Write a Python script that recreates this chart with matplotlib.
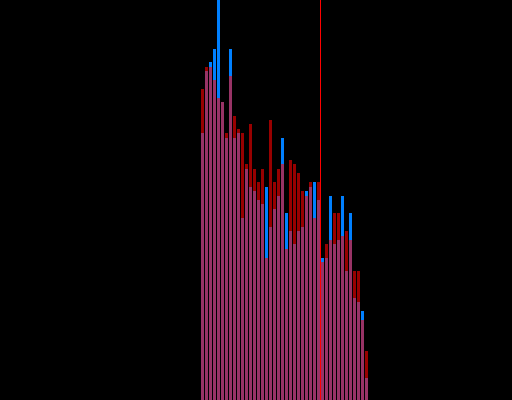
import numpy as np
import matplotlib
matplotlib.use("Agg")
import matplotlib.pyplot as plt

# counts per bin (bin index 0..41)
blue_counts = [60, 74, 76, 79, 90, 67, 59, 79, 59, 60,
               41, 52, 48, 47, 45, 44, 48, 39, 43, 46,
               59, 42, 38, 35, 38, 39, 47, 48, 49, 45,
               32, 32, 46, 35, 36, 46, 29, 42, 23, 22,
               20, 5]
red_counts = [70, 75, 75, 72, 68, 67, 60, 73, 64, 61,
              60, 53, 62, 52, 49, 52, 32, 63, 49, 52,
              53, 34, 54, 53, 51, 47, 46, 49, 41, 49,
              31, 35, 36, 42, 42, 37, 38, 36, 29, 29,
              18, 11]
marker_x = 29.875

bins = np.arange(len(blue_counts))

fig = plt.figure(figsize=(5.12, 4), dpi=100, facecolor="black")
ax = fig.add_axes([0, 0, 1, 1])
ax.set_facecolor("black")

# blue first (opaque), red over it with alpha
ax.bar(bins, blue_counts, width=0.75, align="edge", color="#0080ff", linewidth=0)
ax.bar(bins, red_counts, width=0.75, align="edge", color="#ff0000", alpha=0.6, linewidth=0)
# marker line, one pixel wide (a bin is 4 px)
ax.axvspan(marker_x - 0.125, marker_x + 0.125, color="#ff0000", linewidth=0, zorder=3)

ax.set_xlim(-50.25, 77.75)
ax.set_ylim(0, 90)
ax.axis("off")

fig.savefig("out.png", dpi=100, facecolor="black")
